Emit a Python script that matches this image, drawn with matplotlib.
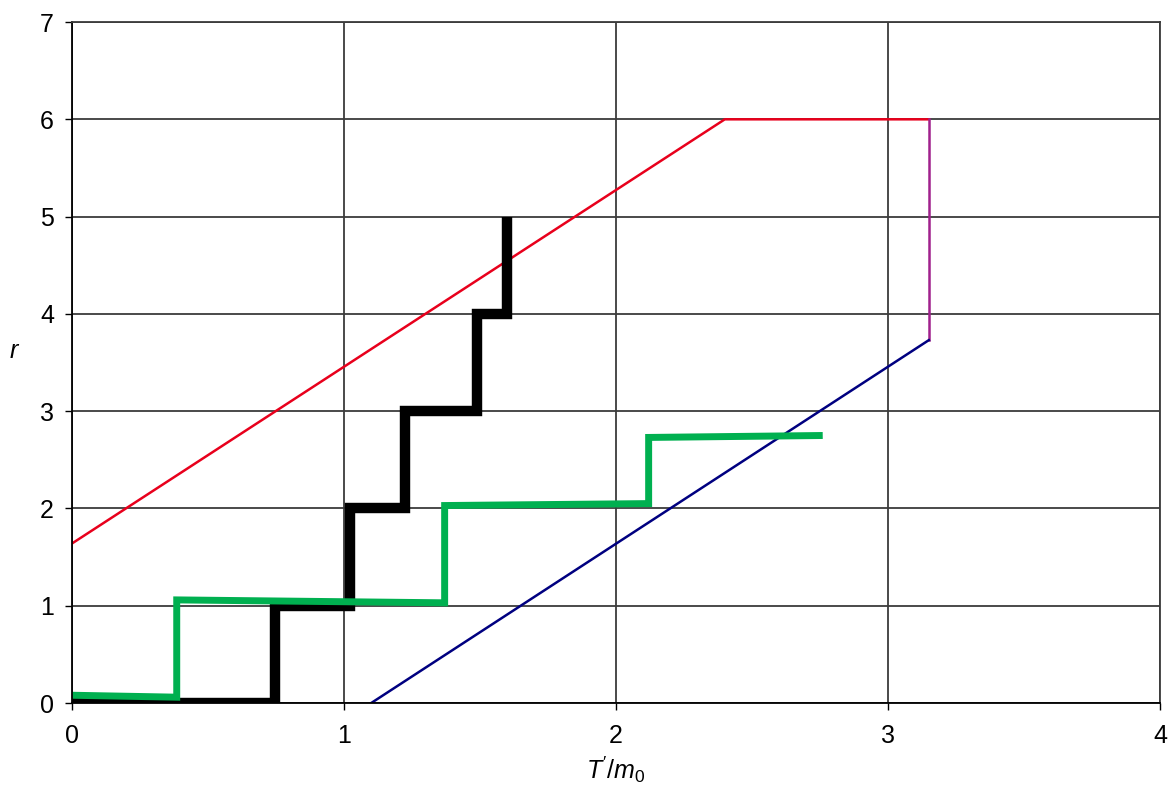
import matplotlib
matplotlib.use("Agg")
import matplotlib.pyplot as plt

plt.rcParams['font.family'] = ['Liberation Sans', 'DejaVu Sans']
plt.rcParams['mathtext.fontset'] = 'custom'
plt.rcParams['mathtext.it'] = 'Liberation Sans:italic'
plt.rcParams['mathtext.rm'] = 'Liberation Sans'

# staircase curves (T'/m0, r)
black_x = [0, 0.745, 0.745, 1.022, 1.022, 1.224, 1.224, 1.49, 1.49, 1.60, 1.60]
black_y = [0, 0, 1, 1, 2, 2, 3, 3, 4, 4, 5]

green_x = [0, 0.385, 0.385, 1.37, 1.37, 2.12, 2.12, 2.76]
green_y = [0.08, 0.06, 1.06, 1.03, 2.03, 2.05, 2.73, 2.75]

# boundary lines
red_x = [0, 2.40, 3.15]
red_y = [1.64, 6.0, 6.0]
purple_x = [3.15, 3.15]
purple_y = [6.0, 3.73]
blue_x = [1.10, 3.15]
blue_y = [0.0, 3.73]

fig = plt.figure(figsize=(11.69, 7.87), dpi=100)
ax = fig.add_axes([0.0616, 0.1067, 0.9307, 0.8653])

ax.plot(red_x, red_y, color='#E8001C', lw=1.8)
ax.plot(purple_x, purple_y, color='#A0208C', lw=1.8)
ax.plot(blue_x, blue_y, color='#000080', lw=1.8)
ax.plot(black_x, black_y, color='black', lw=7.5, solid_joinstyle='miter', solid_capstyle='butt')
ax.plot(green_x, green_y, color='#00B050', lw=5, solid_joinstyle='miter', solid_capstyle='butt')

ax.set_xlim(0, 4)
ax.set_ylim(0, 7)
ax.set_xticks(range(0, 5))
ax.set_yticks(range(0, 8))
ax.grid(True, color='#3c3c3c', lw=1.3)
ax.set_axisbelow(True)
for s in ax.spines.values():
    s.set_color('#3c3c3c')
    s.set_linewidth(1.3)
ax.spines['left'].set_color('black')
ax.spines['bottom'].set_color('black')
ax.tick_params(direction='out', length=5, width=1, labelsize=18, colors='black')
ax.tick_params(axis='x', pad=10)
ax.tick_params(axis='y', pad=8)

ax.set_xlabel("$T'/m_0$", fontsize=18, labelpad=5)
ax.set_ylabel("$r$", fontsize=18, rotation=0, labelpad=18)

fig.savefig('out.png', dpi=100)
